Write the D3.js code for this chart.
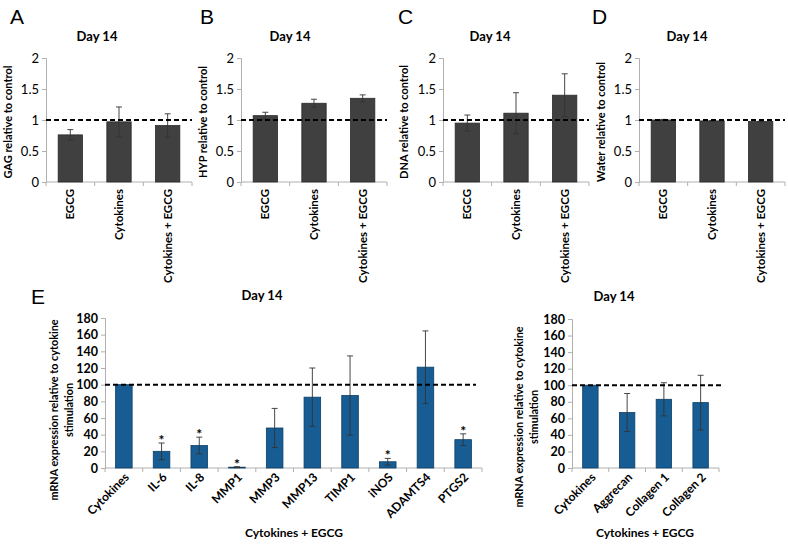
<!DOCTYPE html>
<html><head><meta charset="utf-8">
<script src="https://cdn.jsdelivr.net/npm/d3@7"></script>
<style>
body{margin:0;background:#fff;}
svg text{font-family:Lato,"Open Sans",sans-serif;fill:#000;}
</style></head><body>
<svg id="c" width="788" height="544"></svg>
<script>
// ---------- DATA ----------
const topCategories = ["EGCG", "Cytokines", "Cytokines + EGCG"];
const gagValues = [0.76, 0.97, 0.91];
const gagErrors = [0.085, 0.24, 0.19];
const hypValues = [1.07, 1.27, 1.35];
const hypErrors = [0.055, 0.065, 0.055];
const dnaValues = [0.95, 1.11, 1.40];
const dnaErrors = [0.13, 0.33, 0.345];
const waterValues = [1.00, 0.985, 0.975];
const waterErrors = [0.01, 0.005, 0.005];
const topTicks = [0, 0.5, 1, 1.5, 2];

const geneCategories = ["Cytokines", "IL-6", "IL-8", "MMP1", "MMP3", "MMP13", "TIMP1", "iNOS", "ADAMTS4", "PTGS2"];
const geneValues = [100, 20, 27, 1, 48, 85, 87, 7.5, 121, 34];
const geneErrors = [0, 10, 10, 0.6, 23.5, 35, 47.5, 4, 43.5, 7];
const geneStars = [false, true, true, true, false, false, false, true, false, true];

const matrixCategories = ["Cytokines", "Aggrecan", "Collagen 1", "Collagen 2"];
const matrixValues = [100, 67, 83, 79];
const matrixErrors = [0, 23, 20, 33];
const matrixStars = [false, false, false, false];
const eTicks = [0, 20, 40, 60, 80, 100, 120, 140, 160, 180];

// ---------- DRAW ----------
const svg = d3.select("#c");
const axisGray = "#b0b0b0";

function drawPanel(o) {
  const g = svg.append("g");
  const x = d3.scaleBand().domain(o.cats).range([o.x0, o.x1]);
  const y = d3.scaleLinear().domain(o.domain).range([o.y1, o.y0]);
  // y axis
  const ya = d3.axisLeft(y).tickValues(o.ticks).tickSize(4).tickPadding(3)
    .tickFormat(o.fmt || (d => d));
  const yg = g.append("g").attr("transform", `translate(${o.x0},0)`).call(ya);
  yg.select(".domain").attr("stroke", axisGray);
  yg.selectAll(".tick line").attr("stroke", axisGray);
  yg.selectAll(".tick text").attr("font-size", o.yTickSize).attr("font-weight", o.yTickWeight)
    .attr("fill", "#000").style("font-family", "Lato, sans-serif");
  // x axis line with boundary ticks
  g.append("line").attr("x1", o.x0).attr("x2", o.x1).attr("y1", o.y1).attr("y2", o.y1)
    .attr("stroke", axisGray);
  const bounds = o.cats.map(c => x(c)).concat([o.x1]);
  g.selectAll(".bt").data(bounds).join("line")
    .attr("x1", d => d).attr("x2", d => d).attr("y1", o.y1).attr("y2", o.y1 + 4)
    .attr("stroke", axisGray);
  // bars
  const bw = x.bandwidth() * o.barFrac;
  g.selectAll(".bar").data(o.cats).join("rect")
    .attr("x", d => x(d) + (x.bandwidth() - bw) / 2)
    .attr("width", bw)
    .attr("y", (d, i) => y(o.vals[i]))
    .attr("height", (d, i) => y(0) - y(o.vals[i]))
    .attr("fill", o.color).attr("stroke", o.edge).attr("stroke-width", 0.8);
  // error bars
  o.cats.forEach((c, i) => {
    if (!o.errs[i]) return;
    const cx = x(c) + x.bandwidth() / 2;
    const t = y(o.vals[i] + o.errs[i]), b = y(o.vals[i] - o.errs[i]);
    g.append("line").attr("x1", cx).attr("x2", cx).attr("y1", t).attr("y2", b)
      .attr("stroke", "#333").attr("stroke-width", 0.9);
    [t, b].forEach(yy => g.append("line").attr("x1", cx - 3).attr("x2", cx + 3)
      .attr("y1", yy).attr("y2", yy).attr("stroke", "#333").attr("stroke-width", 0.9));
    if (o.stars && o.stars[i]) {
      g.append("text").attr("x", cx).attr("y", t + 2).attr("text-anchor", "middle")
        .attr("font-size", 14).attr("font-weight", "bold").text("*");
    }
  });
  // dashed reference line
  g.append("line").attr("x1", o.x0).attr("x2", o.dashEnd).attr("y1", y(o.ref)).attr("y2", y(o.ref))
    .attr("stroke", "#000").attr("stroke-width", 2).attr("stroke-dasharray", "5,3");
  // x tick labels
  o.cats.forEach(c => {
    const cx = x(c) + x.bandwidth() / 2;
    if (o.rot === -90) {
      g.append("text").attr("transform", `translate(${cx + 4},${o.y1 + 7}) rotate(-90)`)
        .attr("text-anchor", "end").attr("font-size", 11.5).attr("font-weight", "bold").text(c);
    } else {
      g.append("text").attr("transform", `translate(${cx + 6},${o.y1 + 10}) rotate(-45)`)
        .attr("text-anchor", "end").attr("font-size", 12).attr("font-weight", "bold").text(c);
    }
  });
  // title
  g.append("text").attr("x", o.titleX).attr("y", o.titleY).attr("text-anchor", "middle")
    .attr("font-size", 13).attr("font-weight", "bold").text("Day 14");
  // y label
  o.ylabel.forEach((line, k) => {
    g.append("text").attr("transform", `translate(${o.ylabelX + k * 15},${o.ylabelY}) rotate(-90)`)
      .attr("text-anchor", "middle").attr("font-size", o.ylabelSize).attr("font-weight", "bold").text(line);
  });
  if (o.letter) {
    g.append("text").attr("x", o.letter[1]).attr("y", o.letter[2]).attr("font-size", 21)
      .style("font-family", "Liberation Sans, Arial, sans-serif").text(o.letter[0]);
  }
  if (o.xtitle) {
    g.append("text").attr("x", o.xtitle[0]).attr("y", o.xtitle[1]).attr("text-anchor", "middle")
      .attr("font-size", 12).attr("font-weight", "bold").text("Cytokines + EGCG");
  }
}

const topCommon = {cats: topCategories, domain: [0, 2], ticks: topTicks, y0: 58, y1: 182,
  barFrac: 0.5, color: "#404040", edge: "#2a2a2a", ref: 1, rot: -90, yTickSize: 13, yTickWeight: "normal",
  fmt: d => d, titleY: 41, ylabelSize: 11};
const tops = [
  {vals: gagValues, errs: gagErrors, x0: 46, label: "GAG relative to control", lx: 12, letter: ["A", 10, 24], tx: 97},
  {vals: hypValues, errs: hypErrors, x0: 241, label: "HYP relative to control", lx: 207, letter: ["B", 200, 24], tx: 290},
  {vals: dnaValues, errs: dnaErrors, x0: 443, label: "DNA relative to control", lx: 408, letter: ["C", 398, 24], tx: 490},
  {vals: waterValues, errs: waterErrors, x0: 639, label: "Water relative to control", lx: 605, letter: ["D", 592, 24], tx: 687}
];
tops.forEach(p => drawPanel(Object.assign({}, topCommon, {
  vals: p.vals, errs: p.errs, x0: p.x0, x1: p.x0 + 146, dashEnd: p.x0 + 146,
  ylabel: [p.label], ylabelX: p.lx, ylabelY: 122, letter: p.letter, titleX: p.tx
})));

drawPanel({cats: geneCategories, vals: geneValues, errs: geneErrors, stars: geneStars,
  domain: [0, 180], ticks: eTicks, x0: 105, x1: 482, y0: 318, y1: 468, barFrac: 0.44,
  color: "#175d93", edge: "#0e3f66", ref: 100, dashEnd: 476, rot: -45, yTickSize: 12.5, yTickWeight: "bold",
  titleX: 262, titleY: 300, ylabel: ["mRNA expression relative to cytokine", "stimulation"],
  ylabelX: 57.5, ylabelY: 410, ylabelSize: 10.8, letter: ["E", 31, 304], xtitle: [294, 537]});

drawPanel({cats: matrixCategories, vals: matrixValues, errs: matrixErrors, stars: matrixStars,
  domain: [0, 180], ticks: eTicks, x0: 572, x1: 719, y0: 319, y1: 468, barFrac: 0.42,
  color: "#175d93", edge: "#0e3f66", ref: 100, dashEnd: 722, rot: -45, yTickSize: 12.5, yTickWeight: "bold",
  titleX: 614, titleY: 301, ylabel: ["mRNA expression relative to cytokine", "stimulation"],
  ylabelX: 522.5, ylabelY: 417, ylabelSize: 10.8, xtitle: [645, 537]});
</script>
</body></html>
